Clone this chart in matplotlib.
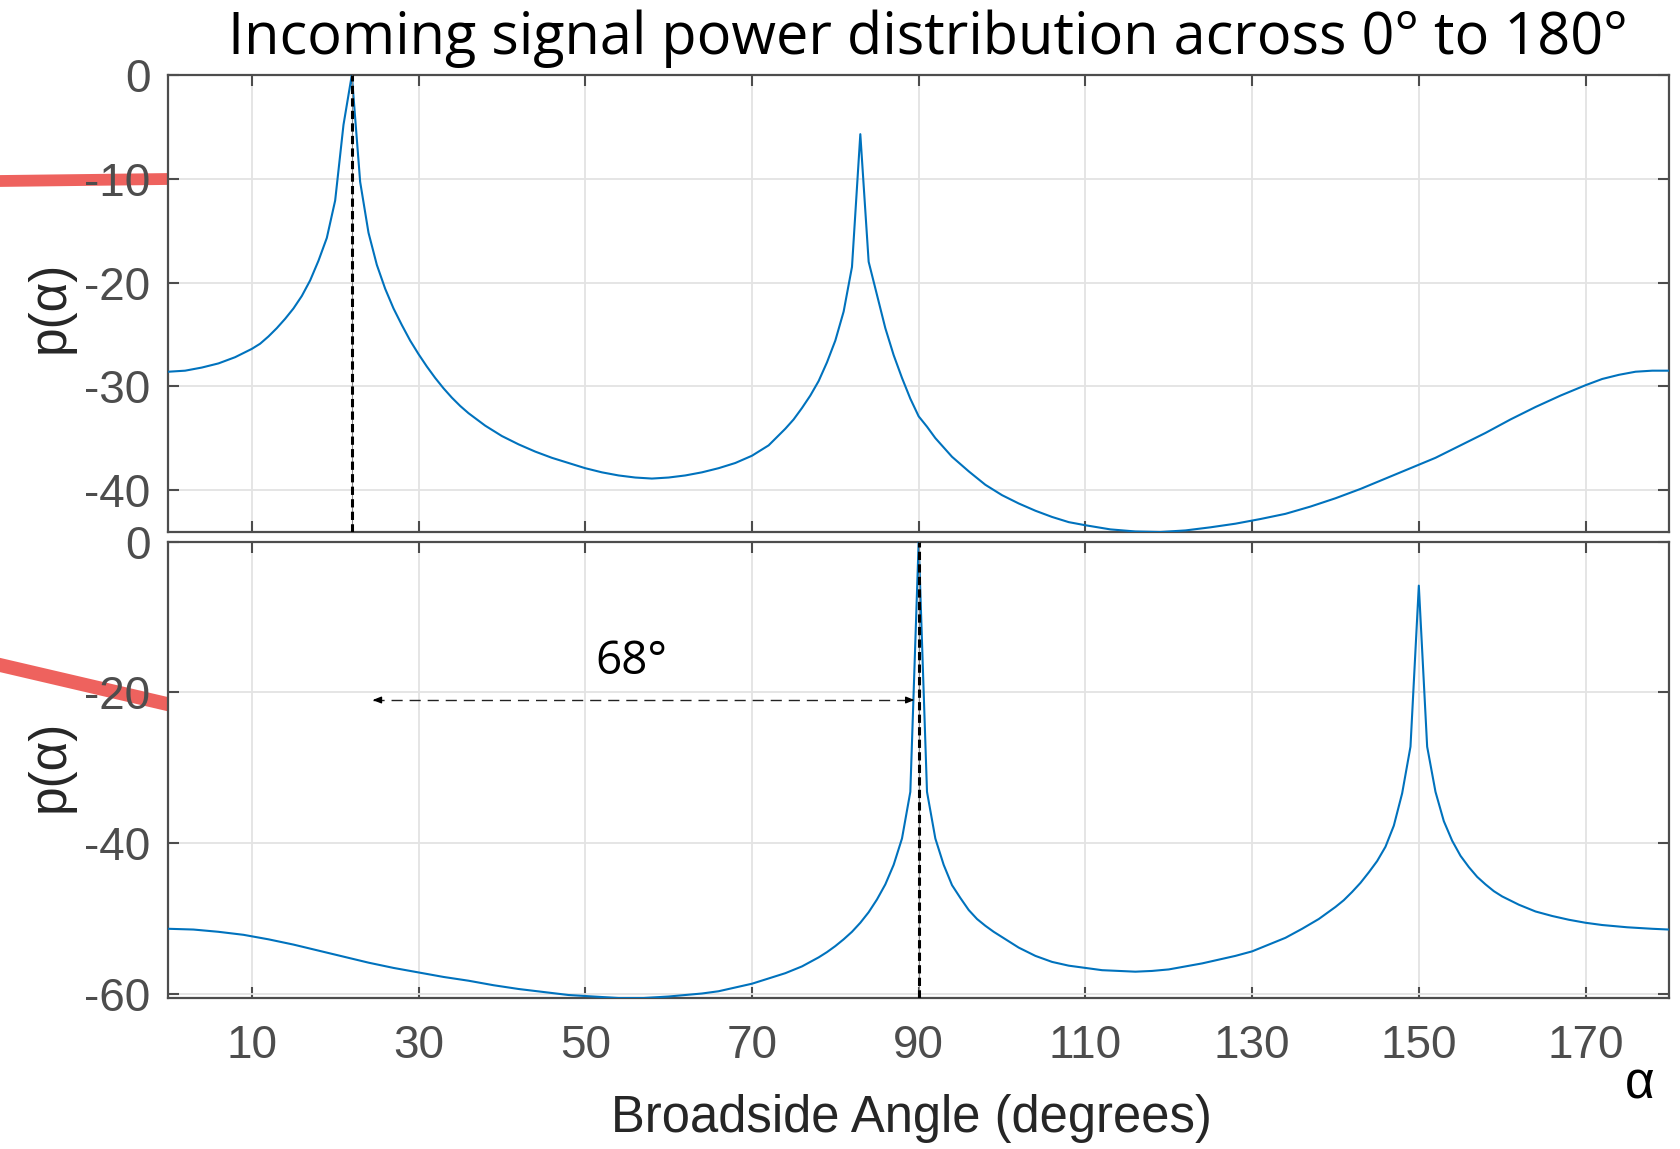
import numpy as np
import matplotlib.pyplot as plt
from matplotlib.lines import Line2D

plt.rcParams['font.family'] = ['Liberation Sans', 'DejaVu Sans']
plt.rcParams['axes.unicode_minus'] = False

# spatial spectrum, upper panel (dB)
top_angle = [0, 2, 4, 6, 8, 10, 11, 12, 13, 14, 15, 16, 17, 18, 19, 20, 21, 22, 23, 24,
             25, 26, 27, 28, 29, 30, 31, 32, 33, 34, 35, 36, 38, 40, 42, 44, 46, 48, 50,
             52, 54, 56, 58, 60, 62, 64, 66, 68, 70, 72, 74, 75, 76, 77, 78, 79, 80, 81,
             82, 83, 84, 85, 86, 87, 88, 89, 90, 91, 92, 93, 94, 96, 98, 100, 102, 104,
             106, 108, 110, 113, 116, 119, 122, 125, 128, 131, 134, 137, 140, 143, 146,
             149, 152, 155, 158, 161, 164, 167, 170, 172, 174, 176, 178, 180]
top_power = [-28.6, -28.5, -28.2, -27.8, -27.2, -26.4, -25.9, -25.2, -24.4, -23.5, -22.5,
             -21.3, -19.8, -17.9, -15.7, -12.1, -4.8, 0.0, -10.3, -15.2,
             -18.3, -20.6, -22.5, -24.1, -25.6, -26.9, -28.1, -29.2, -30.2, -31.1, -31.9,
             -32.6, -33.8, -34.8, -35.6, -36.3, -36.9, -37.4, -37.9,
             -38.3, -38.6, -38.8, -38.9, -38.8, -38.6, -38.3, -37.9, -37.4, -36.7, -35.7,
             -34.1, -33.2, -32.1, -30.9, -29.5, -27.7, -25.6, -22.8,
             -18.5, -5.7, -18.0, -21.2, -24.4, -27.0, -29.2, -31.2, -32.9, -33.9, -35.0,
             -35.9, -36.8, -38.2, -39.5, -40.5, -41.3, -42.0,
             -42.6, -43.1, -43.4, -43.8, -44.0, -44.05, -43.9, -43.6, -43.25, -42.8, -42.3,
             -41.6, -40.8, -39.9, -38.9,
             -37.9, -36.9, -35.7, -34.5, -33.2, -32.0, -30.9, -29.9, -29.3, -28.9, -28.6,
             -28.5, -28.5]

# spatial spectrum, lower panel (dB)
bottom_angle = [0, 3, 6, 9, 12, 15, 18, 21, 24, 27, 30, 33, 36, 39, 42, 45, 48, 51, 54, 57,
                60, 62, 64, 66, 68, 70, 72, 74, 76, 78, 79, 80, 81, 82, 83, 84, 85, 86, 87,
                88, 89, 90, 91, 92, 93, 94, 95, 96, 97, 98, 99, 100, 102, 104, 106, 108,
                110, 112, 114, 116, 118, 120, 122, 124, 126, 128, 130, 132, 134, 136, 138,
                140, 141, 142, 143, 144, 145, 146, 147, 148, 149, 150, 151, 152, 153, 154,
                155, 156, 157, 158, 159, 160, 162, 164, 166, 168, 170, 172, 175, 178, 180]
bottom_power = [-51.4, -51.5, -51.8, -52.2, -52.8, -53.5, -54.3, -55.1, -55.9, -56.6, -57.2,
                -57.8, -58.3, -58.9, -59.4, -59.8, -60.2, -60.4, -60.6, -60.6,
                -60.4, -60.2, -60.0, -59.7, -59.2, -58.7, -58.0, -57.3, -56.4, -55.2, -54.5,
                -53.7, -52.8, -51.8, -50.6, -49.2, -47.5, -45.5, -42.9,
                -39.4, -33.2, 0.0, -33.2, -39.4, -42.9, -45.6, -47.3, -48.9, -50.1, -51.0,
                -51.8, -52.5, -53.9, -55.0, -55.8, -56.3,
                -56.6, -56.9, -57.0, -57.1, -57.0, -56.8, -56.4, -56.0, -55.5, -55.0, -54.4,
                -53.5, -52.6, -51.4, -50.1,
                -48.5, -47.6, -46.5, -45.3, -43.9, -42.4, -40.5, -37.7, -33.4, -27.2, -5.8,
                -27.2, -33.2, -37.1, -39.7,
                -41.7, -43.2, -44.5, -45.5, -46.4, -47.1, -48.2, -49.1, -49.7, -50.2, -50.6,
                -50.9, -51.2, -51.4, -51.5]

x_ticks = [10, 30, 50, 70, 90, 110, 130, 150, 170]
top_y_ticks = [-40, -30, -20, -10, 0]
bottom_y_ticks = [-60, -40, -20, 0]

top_doa = 22
bottom_doa = 90
sep_text = '68°'
arrow_from, arrow_to, arrow_level = 24.5, 89.5, -21

blue = '#0072BD'
axis_grey = '#4d4d4d'

fig = plt.figure(figsize=(16.81, 11.49), dpi=100)
ax1 = fig.add_axes([0.1002, 0.5370, 0.8926, 0.3977])
ax2 = fig.add_axes([0.1002, 0.1314, 0.8926, 0.3969])


def style(ax, yticks, ylim):
    ax.set_xlim(0, 180)
    ax.set_ylim(*ylim)
    ax.set_xticks(x_ticks)
    ax.set_yticks(yticks)
    ax.grid(True, color='#e3e3e3', lw=1.3)
    ax.set_axisbelow(True)
    ax.tick_params(direction='in', length=8, width=1.5, top=True, right=True,
                   colors=axis_grey, labelsize=33, pad=13)
    ax.tick_params(axis='x', pad=19)
    for s in ax.spines.values():
        s.set_color(axis_grey)
        s.set_linewidth(1.6)


style(ax1, top_y_ticks, (-44.05, 0))
style(ax2, bottom_y_ticks, (-60.6, 0))
ax1.tick_params(labelbottom=False)

ax1.plot(top_angle, top_power, color=blue, lw=1.5, zorder=3)
ax2.plot(bottom_angle, bottom_power, color=blue, lw=1.5, zorder=3)

# detected direction markers
for ax, a in [(ax1, top_doa), (ax2, bottom_doa)]:
    ax.axvline(a, color='#8a8a8a', lw=0.8, zorder=4)
    ax.axvline(a, color='black', lw=2.2, dashes=(2.7, 1.4), zorder=5)

# separation arrow
ax2.plot([arrow_from, arrow_to], [arrow_level, arrow_level], color='#222222', lw=1.0,
         dashes=(8, 5), zorder=4)
for tip, tail in [(arrow_from, arrow_from + 0.6), (arrow_to, arrow_to - 0.6)]:
    ax2.annotate('', xy=(tip, arrow_level), xytext=(tail, arrow_level),
                 arrowprops=dict(arrowstyle='-|>,head_length=0.5,head_width=0.2',
                                 color='black', lw=1.0, shrinkA=0, shrinkB=0), zorder=6)
ax2.text((arrow_from + arrow_to) / 2 - 1.5, -16, sep_text, fontsize=33,
         family=['Open Sans', 'DejaVu Sans'], color='black', ha='center', va='center')

fig.text(0.552, 0.966, 'Incoming signal power distribution across 0° to 180°',
         fontsize=41.5, family=['Open Sans', 'DejaVu Sans'], color='black',
         ha='center', va='center')

fig.text(0.0298, 1 - 307 / 1149, 'p(α)', rotation=90, fontsize=37, color='#262626',
         ha='center', va='center')
fig.text(0.0298, 1 - 766 / 1149, 'p(α)', rotation=90, fontsize=37, color='#262626',
         ha='center', va='center')
fig.text(0.542, 0.0262, 'Broadside Angle (degrees)', fontsize=36.5, color='#262626',
         ha='center', va='center')
fig.text(0.9756, 0.0557, 'α', fontsize=37, color='black', ha='center', va='center')

# red highlight strokes to the left of the panels
fig.add_artist(Line2D([0, 0.0994], [1 - 181 / 1149, 1 - 179 / 1149], color='#ee5a55',
                      lw=8.5, alpha=0.95, zorder=-1, transform=fig.transFigure))
fig.add_artist(Line2D([0, 0.0994], [1 - 665 / 1149, 1 - 704 / 1149], color='#ee5a55',
                      lw=10, alpha=0.95, zorder=-1, transform=fig.transFigure))

fig.savefig('out.png', dpi=100)
